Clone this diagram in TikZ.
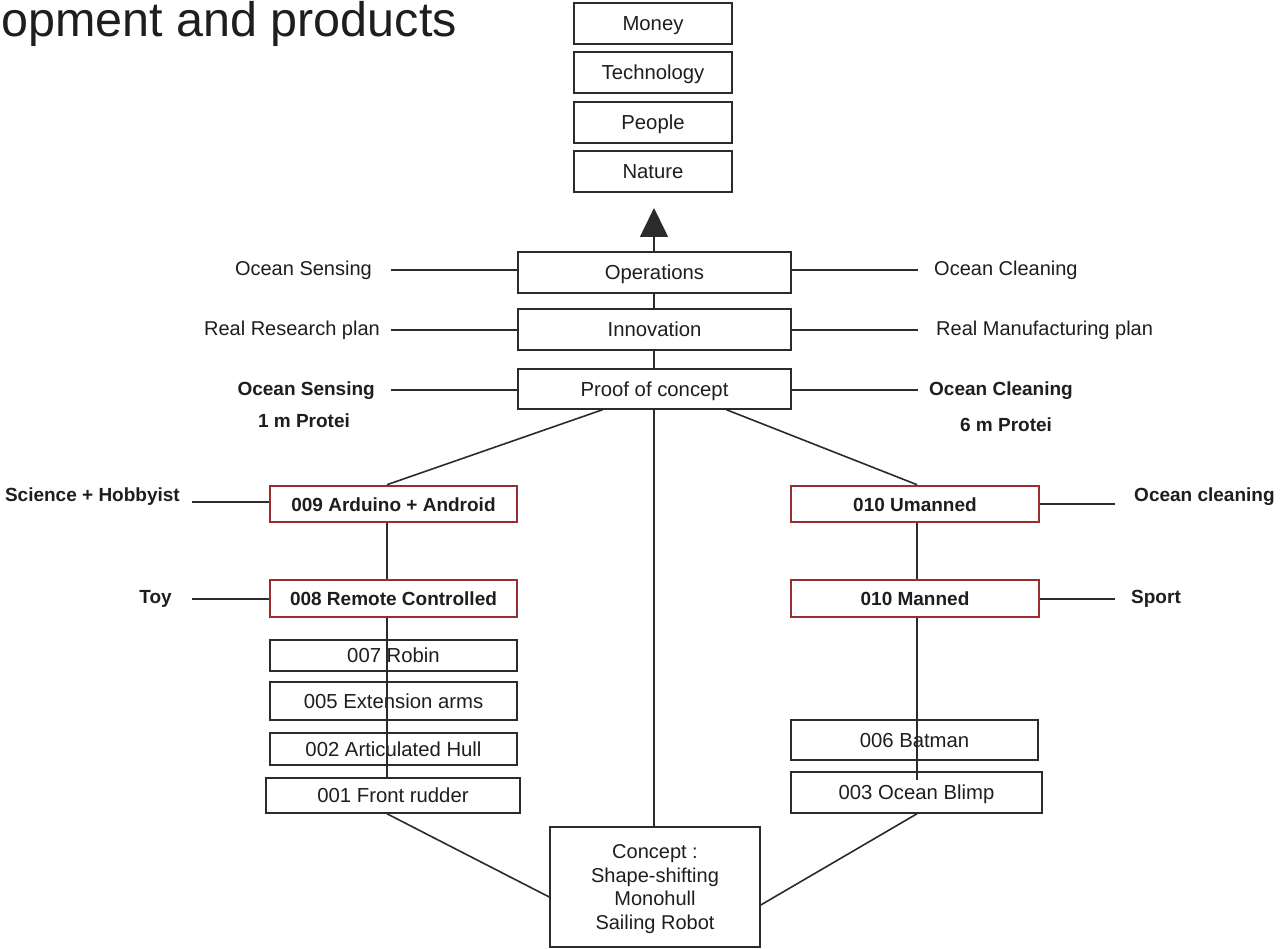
\documentclass[tikz,border=0pt]{standalone}
\usepackage{fontspec}
\setmainfont{Liberation Sans}
\usetikzlibrary{arrows.meta,calc}
\definecolor{ln}{HTML}{2B2B2B}
\definecolor{txt}{HTML}{1E1E1E}
\definecolor{redb}{HTML}{9A2E2E}
\tikzset{
  box/.style={draw=ln, line width=1.5pt, fill=white, inner sep=0pt, text=txt,
    font=\fontsize{20.3}{23}\selectfont, align=center, text height=14pt, text depth=0pt},
  redbox/.style={box, draw=redb, line width=2.6pt, font=\fontsize{19}{22}\selectfont\bfseries},
  lab/.style={inner sep=0pt, text=txt, font=\fontsize{20}{23}\selectfont},
  blab/.style={lab, font=\fontsize{19}{22}\selectfont\bfseries},
  conn/.style={draw=ln, line width=1.6pt},
}
\begin{document}
\begin{tikzpicture}[x=1pt,y=-1pt]
\useasboundingbox[fill=white] (0,0) rectangle (1281,949);

% title fragment
\node[inner sep=0pt, anchor=base west, text=txt, font=\fontsize{48.5}{54}\selectfont] (title) at (1,37) {opment and products};

% top stack
\node[box, minimum width=158pt, minimum height=41pt] (money) at (653,23.5) {Money};
\node[box, minimum width=158pt, minimum height=41pt] (tech) at (653,72.5) {Technology};
\node[box, minimum width=158pt, minimum height=41pt] (people) at (653,122.5) {People};
\node[box, minimum width=158pt, minimum height=41pt] (nature) at (653,171.5) {Nature};
\coordinate (tip) at (654,208);

% middle stack
\node[box, minimum width=273pt, minimum height=41pt] (ops) at (654.5,272.5) {Operations};
\node[box, minimum width=273pt, minimum height=41pt] (inno) at (654.5,329.5) {Innovation};
\node[box, minimum width=273pt, minimum height=40pt] (poc) at (654.5,389) {Proof of concept};

\draw[conn, -{Triangle[length=29pt,width=28pt]}] (ops.north -| tip) -- (tip);
\draw[conn] (ops.south -| tip) -- (inno.north -| tip);
\draw[conn] (inno.south -| tip) -- (poc.north -| tip);

% side labels, middle stack
\node[lab, anchor=east] (osl) at (372,270) {Ocean Sensing};
\node[lab, anchor=east] (rrp) at (380,330) {Real Research plan};
\node[blab, anchor=east] (osb) at (375,391) {Ocean Sensing};
\node[blab] (p1) at (304,421) {1 m Protei};
\node[lab, anchor=west] (ocl) at (934,270) {Ocean Cleaning};
\node[lab, anchor=west] (rmp) at (936,330) {Real Manufacturing plan};
\node[blab, anchor=west] (ocb) at (929,391) {Ocean Cleaning};
\node[blab] (p6) at (1006,425) {6 m Protei};

\coordinate (L1) at (391,270);
\coordinate (L2) at (391,330);
\coordinate (L3) at (391,390);
\coordinate (R1) at (918,270);
\coordinate (R2) at (918,330);
\coordinate (R3) at (918,390);
\draw[conn] (L1) -- (L1 -| ops.west);
\draw[conn] (L2) -- (L2 -| inno.west);
\draw[conn] (L3) -- (L3 -| poc.west);
\draw[conn] (R1 -| ops.east) -- (R1);
\draw[conn] (R2 -| inno.east) -- (R2);
\draw[conn] (R3 -| poc.east) -- (R3);

% columns
\coordinate (xL) at (387,0);
\coordinate (xR) at (917,0);
\coordinate (rEnd) at (917,780);

% concept box
\node[draw=ln, line width=1.5pt, fill=white, inner sep=0pt, text=txt, align=center,
  font=\fontsize{20}{23.7}\selectfont, text depth=0pt,
  minimum width=210pt, minimum height=120pt] (concept) at (655,887) {Concept :\\Shape-shifting\\Monohull\\Sailing Robot};

% center vertical
\draw[conn] (poc.south -| tip) -- (concept.north -| tip);

% product boxes
\node[redbox, minimum width=247pt, minimum height=36pt] (n009) at (393.5,504) {009 Arduino + Android};
\node[redbox, minimum width=247pt, minimum height=37pt] (n008) at (393.5,598.5) {008 Remote Controlled};
\node[box, minimum width=247pt, minimum height=31pt] (n007) at (393.5,655.5) {007 Robin};
\node[box, minimum width=247pt, minimum height=38pt] (n005) at (393.5,701) {005 Extension arms};
\node[box, minimum width=247pt, minimum height=32pt] (n002) at (393.5,749) {002 Articulated Hull};
\node[box, minimum width=254pt, minimum height=35pt] (n001) at (393,795.5) {001 Front rudder};

\node[redbox, minimum width=248pt, minimum height=36pt] (um) at (915,504) {010 Umanned};
\node[redbox, minimum width=248pt, minimum height=37pt] (man) at (915,598.5) {010 Manned};
\node[box, minimum width=247pt, minimum height=40pt] (n006) at (914.5,740) {006 Batman};
\node[box, minimum width=251pt, minimum height=41pt] (n003) at (916.5,792.5) {003 Ocean Blimp};

\draw[conn] ($(poc.south)+(-52,0)$) -- (n009.north -| xL);
\draw[conn] ($(poc.south)+(72,0)$) -- (um.north -| xR);
\draw[conn] (n009.south -| xL) -- (n008.north -| xL);
\draw[conn] (n008.south -| xL) -- (n001.north -| xL);
\draw[conn] (um.south -| xR) -- (man.north -| xR);
\draw[conn] (man.south -| xR) -- (rEnd);
\draw[conn] (n001.south -| xL) -- ($(concept.west)+(0,10)$);
\draw[conn] (n003.south -| xR) -- ($(concept.east)+(0,18)$);

% lower side labels
\node[blab, anchor=east] (sci) at (180,497) {Science + Hobbyist};
\node[blab, anchor=east] (toy) at (172,599) {Toy};
\node[blab, anchor=west] (ocn) at (1134,497) {Ocean cleaning};
\node[blab, anchor=west] (sport) at (1131,599) {Sport};
\coordinate (S1) at (192,502);
\coordinate (S2) at (192,599);
\coordinate (T1) at (1115,504);
\coordinate (T2) at (1115,599);
\draw[conn] (S1) -- (S1 -| n009.west);
\draw[conn] (S2) -- (S2 -| n008.west);
\draw[conn] (T1 -| um.east) -- (T1);
\draw[conn] (T2 -| man.east) -- (T2);
\end{tikzpicture}
\end{document}
